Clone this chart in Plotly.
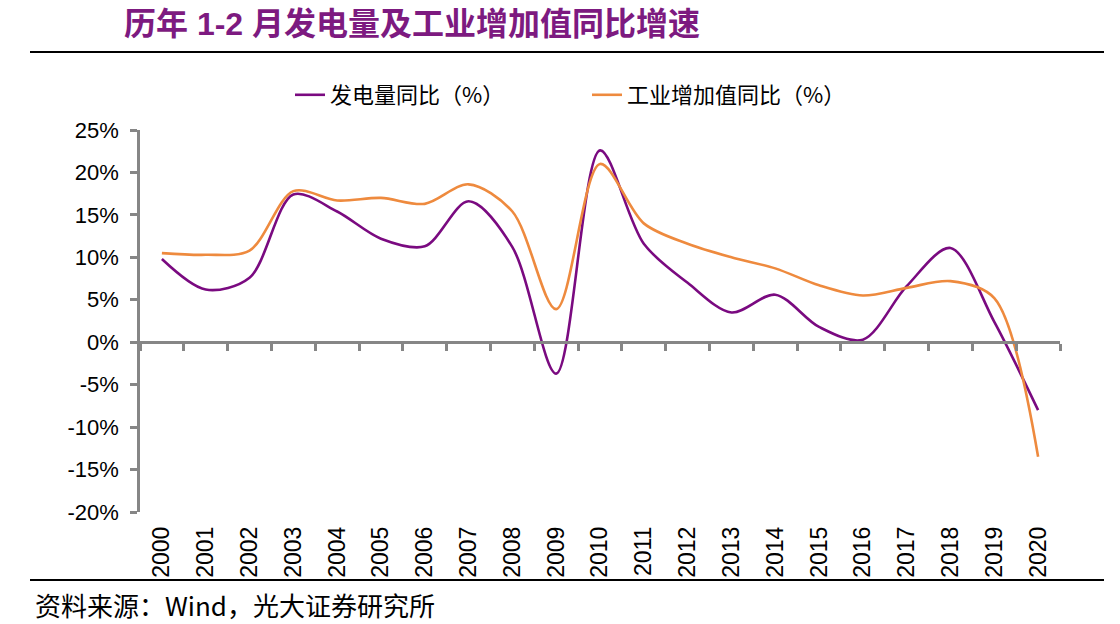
import plotly.graph_objects as go

# ---------------- data ----------------
years = ["2000", "2001", "2002", "2003", "2004", "2005", "2006", "2007", "2008", "2009", "2010",
         "2011", "2012", "2013", "2014", "2015", "2016", "2017", "2018", "2019", "2020"]
power_yoy = [9.8, 6.2, 7.6, 17.4, 15.4, 12.2, 11.3, 16.6, 11.2, -3.7, 22.6,
             11.6, 7.0, 3.5, 5.6, 1.8, 0.3, 6.6, 11.1, 2.4, -8.0]
industry_yoy = [10.5, 10.3, 10.8, 17.8, 16.7, 17.0, 16.3, 18.6, 15.4, 3.9, 21.0,
                14.0, 11.6, 10.0, 8.7, 6.7, 5.5, 6.4, 7.2, 5.2, -13.5]
y_tick_values = [-20, -15, -10, -5, 0, 5, 10, 15, 20, 25]
y_tick_labels = ["-20%", "-15%", "-10%", "-5%", "0%", "5%", "10%", "15%", "20%", "25%"]
series_names = ["发电量同比（%）", "工业增加值同比（%）"]
title_text = "历年 1-2 月发电量及工业增加值同比增速"
source_text = "资料来源：Wind，光大证券研究所"

# ---------------- styles ----------------
PURPLE = "#7A0A80"
ORANGE = "#EE8A3E"
AXIS_GREY = "#868686"
TITLE_PURPLE = "#7D1A80"
LATIN = "Liberation Sans, Noto Sans CJK SC"
CJK = "Noto Sans CJK SC, Liberation Sans"

W, H = 1120, 624
PLOT_L, PLOT_R, PLOT_T, PLOT_B = 140, 1060, 130, 512   # page px
ML, MR, MT, MB = PLOT_L, W - PLOT_R, PLOT_T, H - PLOT_B
PW = PLOT_R - PLOT_L
PH = PLOT_B - PLOT_T


def px_x(px):
    return (px - PLOT_L) / PW


def px_y(py):
    return (PLOT_B - py) / PH


fig = go.Figure()
fig.add_trace(go.Scatter(
    x=years, y=power_yoy, mode="lines", name=series_names[0],
    line=dict(color=PURPLE, width=2.6, shape="spline", smoothing=0.9),
    hoverinfo="x+y",
))
fig.add_trace(go.Scatter(
    x=years, y=industry_yoy, mode="lines", name=series_names[1],
    line=dict(color=ORANGE, width=2.6, shape="spline", smoothing=0.9),
    hoverinfo="x+y",
))
# invisible helper trace so that the zero-level category axis gets its ticks
fig.add_trace(go.Scatter(
    x=years, y=industry_yoy, xaxis="x2", mode="lines",
    line=dict(color="rgba(0,0,0,0)", width=0), showlegend=False, hoverinfo="skip",
))

y_min, y_max = y_tick_values[0], y_tick_values[-1]

fig.update_layout(
    width=W, height=H,
    margin=dict(l=ML, r=MR, t=MT, b=MB),
    paper_bgcolor="white", plot_bgcolor="white",
    showlegend=True,
    legend=dict(
        orientation="h", x=px_x(290), xanchor="left", y=px_y(95), yanchor="middle",
        font=dict(family=CJK, size=22, color="black"),
        entrywidth=252, entrywidthmode="pixels",
        bgcolor="rgba(0,0,0,0)",
    ),
    xaxis=dict(
        type="category", categoryorder="array", categoryarray=years,
        range=[-0.5, len(years) - 0.5],
        showline=False, ticks="", showgrid=False, zeroline=False,
        tickangle=-90, ticklabelstandoff=9,
        tickfont=dict(family=LATIN, size=23, color="black"),
    ),
    xaxis2=dict(
        type="category", categoryorder="array", categoryarray=years,
        range=[-0.5, len(years) - 0.5],
        overlaying="x", anchor="free", position=(0 - y_min) / (y_max - y_min),
        side="bottom",
        showline=True, linecolor=AXIS_GREY, linewidth=2.5,
        ticks="outside", ticklen=7, tickwidth=2.5, tickcolor=AXIS_GREY,
        tickson="boundaries", showticklabels=False, showgrid=False, zeroline=False,
    ),
    yaxis=dict(
        range=[y_min, y_max], tickvals=y_tick_values, ticktext=y_tick_labels,
        showline=True, linecolor=AXIS_GREY, linewidth=2.5,
        ticks="outside", ticklen=7, tickwidth=2.5, tickcolor=AXIS_GREY,
        showgrid=False, zeroline=False, ticklabelstandoff=7,
        tickfont=dict(family=LATIN, size=22, color="black"),
    ),
    annotations=[
        dict(text="<b>" + title_text + "</b>", xref="paper", yref="paper",
             x=px_x(122), y=px_y(24), xanchor="left", yanchor="middle", showarrow=False,
             font=dict(family=LATIN, size=32, color=TITLE_PURPLE)),
        dict(text=source_text, xref="paper", yref="paper",
             x=px_x(33), y=px_y(604), xanchor="left", yanchor="middle", showarrow=False,
             font=dict(family=CJK, size=26, color="black")),
    ],
    shapes=[
        dict(type="line", xref="paper", yref="paper", x0=px_x(30), x1=px_x(1104),
             y0=px_y(52), y1=px_y(52), line=dict(color="black", width=2)),
        dict(type="line", xref="paper", yref="paper", x0=px_x(30), x1=px_x(1104),
             y0=px_y(580), y1=px_y(580), line=dict(color="black", width=2)),
    ],
)

# remove the browser's default 8px page margin so the figure fills the window exactly
fig.write_html("out.html", config={"displayModeBar": False},
               post_script="document.body.style.margin='0';")
